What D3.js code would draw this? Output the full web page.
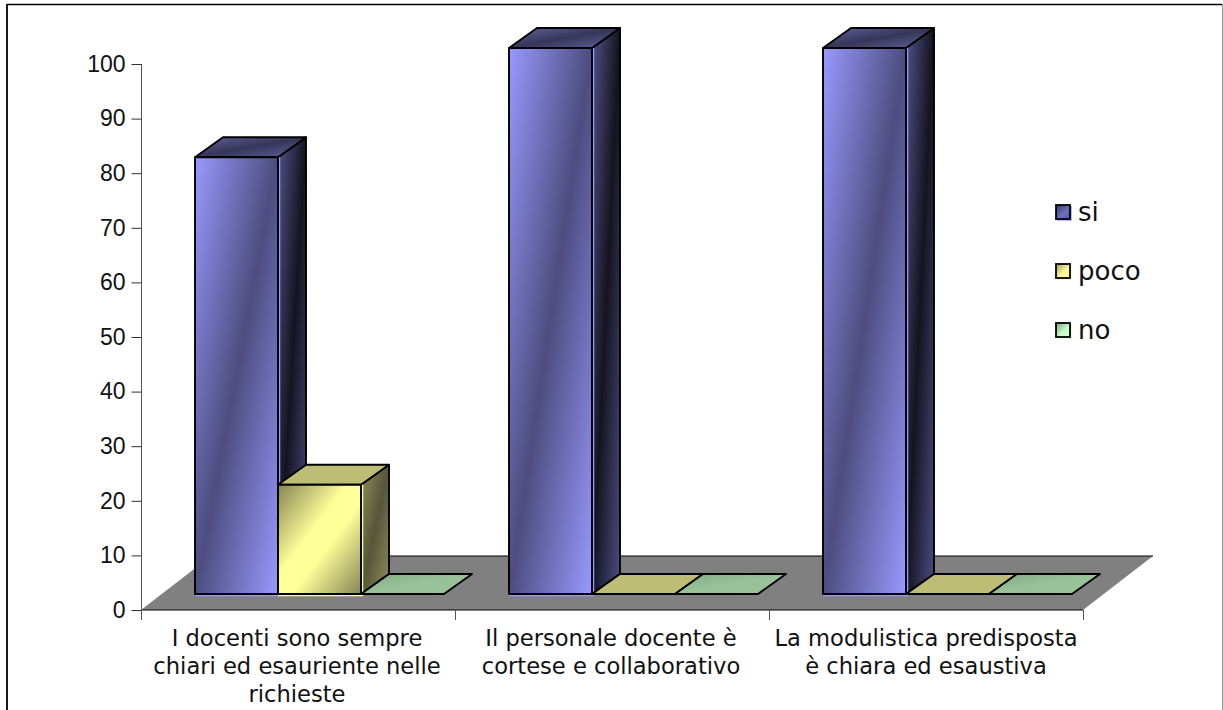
<!DOCTYPE html>
<html><head><meta charset="utf-8">
<script src="https://cdnjs.cloudflare.com/ajax/libs/d3/7.8.5/d3.min.js"></script>
<style>html,body{margin:0;padding:0;background:#fff;overflow:hidden}svg{display:block}</style>
</head><body><svg id="c" width="1223" height="710"></svg>
<script>
const categories = [
  ["I docenti sono sempre","chiari ed esauriente nelle","richieste"],
  ["Il personale docente è","cortese e collaborativo"],
  ["La modulistica predisposta","è chiara ed esaustiva"]
];
const seriesNames = ["si","poco","no"];
const si = [80,100,100];
const poco = [20,0,0];
const no = [0,0,0];
const yTicks = [0,10,20,30,40,50,60,70,80,90,100];

const allSeries = [si,poco,no];
const edgeColors = ["#9999ff","#ffff99","#ccffcc"];
const svg = d3.select("#c");
const defs = svg.append("defs");
function grad(id,stops){
  const g = defs.append("linearGradient").attr("id",id).attr("x1",0).attr("y1",0).attr("x2",1).attr("y2",1);
  stops.forEach(([o,c])=>g.append("stop").attr("offset",o).attr("stop-color",c));
}
grad("f0",[[0,"#9999ff"],[.5,"#4d4d80"],[1,"#9999ff"]]);
grad("s0",[[0,"#52528a"],[.5,"#14141f"],[1,"#4d4d85"]]);
grad("t0",[[0,"#62629f"],[.5,"#36365a"],[1,"#62629f"]]);
grad("f1",[[0,"#858555"],[.42,"#ffff99"],[.58,"#ffff99"],[1,"#858555"]]);
grad("s1",[[0,"#8f8f5c"],[.5,"#56563a"],[1,"#8f8f5c"]]);
grad("t1",[[0,"#bdbd76"],[1,"#bdbd76"]]);
grad("f2",[[0,"#70a070"],[.5,"#ccffcc"],[1,"#70a070"]]);
grad("s2",[[0,"#608060"],[.5,"#304030"],[1,"#608060"]]);
grad("t2",[[0,"#82aa82"],[.5,"#99c299"],[1,"#99c299"]]);
grad("l0",[[0,"#333366"],[.6,"#7070c0"],[1,"#555590"]]);
grad("l1",[[0,"#a0a060"],[.6,"#ffff99"],[1,"#ffff99"]]);
grad("l2",[[0,"#80a080"],[.6,"#ccffcc"],[1,"#ccffcc"]]);

// frame
const frame = svg.append("g");
frame.append("line").attr("x1",7).attr("x2",1222).attr("y1",4.5).attr("y2",4.5).attr("stroke","#000").attr("stroke-width",1.5);
frame.append("line").attr("x1",7).attr("x2",7).attr("y1",4).attr("y2",710).attr("stroke","#000").attr("stroke-width",1.8);
frame.append("line").attr("x1",1222.5).attr("x2",1222.5).attr("y1",4).attr("y2",710).attr("stroke","#999").attr("stroke-width",1);

const x0 = d3.scaleBand().domain(d3.range(categories.length)).range([141,1083]);
const y = d3.scaleLinear().domain([0,100]).range([610,64]);
const floorD = {dx:70,dy:-54};      // floor depth
const inset = {dx:21,dy:-16};       // front plane of the bars
const depth = {dx:28,dy:-20};       // bar depth
const barW = 83;
const x1 = d3.scaleBand().domain(d3.range(3)).range([54,54+barW*3]);

// floor
const fx0=x0.range()[0], fx1=x0.range()[1], fy=y(0);
const fl = d3.path();
fl.moveTo(fx0,fy);fl.lineTo(fx1,fy);fl.lineTo(fx1+floorD.dx,fy+floorD.dy);fl.lineTo(fx0+floorD.dx,fy+floorD.dy);fl.closePath();
svg.append("path").attr("d",fl.toString()).attr("fill","#808080").attr("stroke","none");
svg.append("line").attr("x1",fx0).attr("x2",fx1).attr("y1",fy).attr("y2",fy).attr("stroke","#000").attr("stroke-width",1);
svg.append("line").attr("x1",fx0+floorD.dx).attr("x2",fx1+floorD.dx).attr("y1",fy+floorD.dy).attr("y2",fy+floorD.dy).attr("stroke","#000").attr("stroke-width",1);

// axes
const yAxis = d3.axisLeft(y).tickValues(yTicks).tickSize(10).tickPadding(6);
const ga = svg.append("g").attr("transform",`translate(${fx0+.5},0)`).call(yAxis);
ga.selectAll("path").attr("stroke","#555").attr("d",`M0,${y(100)}V${y(0)+10}`).attr("fill","none");
ga.selectAll("line").attr("stroke","#333");
ga.selectAll("text").attr("font-family","'Liberation Sans',Arial,sans-serif").attr("font-size",23).attr("fill","#111");

const xTickVals = d3.range(categories.length+1).map(i=>i<categories.length?x0(i):x0.range()[1]);
svg.selectAll(".xt").data(xTickVals).join("line").attr("class","xt")
  .attr("x1",d=>d+.5).attr("x2",d=>d+.5).attr("y1",fy).attr("y2",fy+10).attr("stroke","#555");

// bars
function poly(pts){return d3.line()(pts)+"Z";}
categories.forEach((c,ci)=>{
  [0,1,2].forEach(s=>{
    const v = allSeries[s][ci];
    const l = x0(ci)+x1(s), r = l+barW;
    const b = y(0)+inset.dy, t = y(v)+inset.dy;
    const g = svg.append("g").attr("stroke","#000").attr("stroke-width",1.9).attr("stroke-linejoin","round");
    if(v>0){
      g.append("path").attr("d",poly([[r,t],[r+depth.dx,t+depth.dy],[r+depth.dx,b+depth.dy],[r,b]])).attr("fill",`url(#s${s})`);
    }
    g.append("path").attr("d",poly([[l,t],[r,t],[r+depth.dx,t+depth.dy],[l+depth.dx,t+depth.dy]])).attr("fill",`url(#t${s})`);
    if(v>0){
      g.append("path").attr("d",`M${l},${b+1.5}H${r+1.5}V${t}`).attr("fill","none").attr("stroke",edgeColors[s]).attr("stroke-width",1.5);
      g.append("rect").attr("x",l).attr("y",t).attr("width",barW).attr("height",b-t).attr("fill",`url(#f${s})`);
    }
  });
});

// category labels
const lab = svg.append("g").attr("font-family","'DejaVu Sans',Verdana,sans-serif").attr("font-size",22.6).attr("fill","#111").attr("text-anchor","middle");
categories.forEach((c,ci)=>{
  const cx = x0(ci)+x0.bandwidth()/2 - (ci===2?0:1);
  c.forEach((ln,i)=>lab.append("text").attr("x",cx).attr("y",646+i*28).text(ln));
});

// legend
const ly = d3.scalePoint().domain(seriesNames).range([212,330]);
seriesNames.forEach((n,i)=>{
  svg.append("rect").attr("x",1057).attr("y",ly(n)-6).attr("width",15).attr("height",15).attr("fill",edgeColors[i]).attr("opacity",.7);
  svg.append("rect").attr("x",1056).attr("y",ly(n)-7).attr("width",14).attr("height",14)
    .attr("fill",`url(#l${i})`).attr("stroke","#000").attr("stroke-width",1.8);
  svg.append("text").attr("x",1078).attr("y",ly(n)+9).attr("font-family","'DejaVu Sans',Verdana,sans-serif")
    .attr("font-size",26).attr("fill","#111").text(n);
});
</script></body></html>
